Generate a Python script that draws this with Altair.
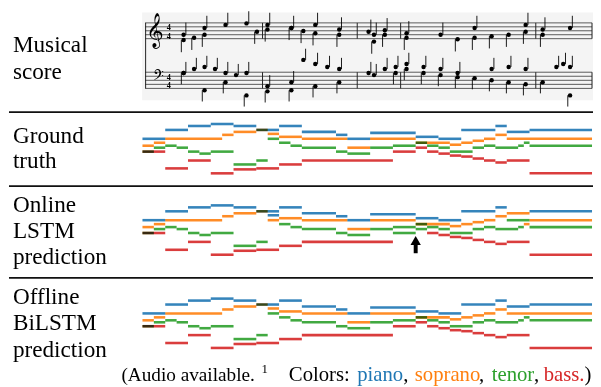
import altair as alt
import pandas as pd

# ---------------- data ----------------
voices = ["piano", "soprano", "tenor", "bass"]
voice_colors = ["#1f77b4", "#ff7f0e", "#2ca02c", "#d62728"]

# notes: (onset, offset) in eighth notes, pitch (MIDI estimate)
gt_piano = [(0, 2, 71), (2, 4, 80), (4, 6, 84), (6, 8, 86), (8, 10, 84), (10, 12, 80), (12, 14, 84),
            (14, 17, 78), (17, 18, 75), (18, 20, 71), (20, 24, 77), (24, 26, 73), (26, 28, 71),
            (28, 31, 80), (31, 32, 84), (32, 34, 78), (34, 40, 80)]
gt_soprano = [(0, 1, 64), (1, 2, 67), (2, 7, 71), (7, 8, 75), (8, 10, 78), (10, 11, 80), (11, 12, 76),
              (12, 14, 73), (14, 18, 71), (18, 20, 62), (20, 24, 71), (24, 27, 67), (27, 28, 65),
              (28, 29, 67), (29, 30, 69), (30, 31, 71), (31, 32, 75), (32, 40, 71)]
gt_tenor = [(0, 1, 58), (1, 2, 62), (2, 3, 64), (3, 4, 62), (4, 5, 58), (5, 6, 56), (6, 8, 58),
            (8, 10, 45), (10, 11, 49), (11, 12, 71), (12, 13, 67), (13, 14, 64), (14, 17, 62),
            (17, 18, 58), (18, 20, 56), (20, 22, 62), (22, 24, 64), (24, 25, 67), (25, 26, 64),
            (26, 27, 62), (27, 29, 58), (29, 30, 62), (30, 31, 64), (31, 33, 62), (33, 33.5, 64),
            (33.5, 34, 67), (34, 40, 64)]
gt_bass = [(0, 2, 58), (2, 4, 41), (4, 6, 49), (6, 8, 36), (8, 10, 40), (10, 12, 41), (12, 14, 45),
           (14, 22, 49), (22, 24, 58), (24, 25, 62), (25, 26, 58), (26, 27, 56), (27, 28, 54),
           (28, 29, 53), (29, 30, 51), (30, 31, 49), (31, 32, 47), (32, 34, 49), (34, 40, 36)]

online_piano = [(0, 2, 71), (2, 4, 80), (4, 6, 84), (6, 8, 86), (8, 10, 84), (10, 12, 80), (11, 12, 76),
                (12, 14, 84), (14, 17, 78), (17, 18, 75), (18, 20, 71), (20, 24, 77), (24, 26, 73),
                (26, 28, 71), (28, 31, 80), (31, 32, 84), (34, 40, 80)]
online_soprano = [(0, 1, 64), (1, 2, 67), (2, 7, 71), (7, 8, 75), (8, 10, 78), (10, 11, 80), (11, 12, 71),
                  (12, 14, 73), (14, 18, 71), (18, 20, 62), (20, 24, 71), (24, 27, 67), (27, 28, 65),
                  (28, 29, 67), (29, 30, 69), (30, 31, 71), (31, 32, 75), (32, 34, 78), (33.5, 34, 67),
                  (34, 40, 71)]
online_tenor = [(0, 1, 58), (1, 2, 62), (2, 3, 64), (3, 4, 62), (4, 5, 58), (5, 6, 56), (6, 8, 58),
                (8, 10, 45), (10, 11, 49), (12, 13, 67), (13, 14, 64), (14, 17, 62), (17, 18, 58),
                (18, 20, 56), (20, 22, 62), (22, 24, 64), (22, 24, 58), (24, 25, 67), (24, 25, 62),
                (25, 26, 64), (26, 27, 62), (27, 29, 58), (29, 30, 62), (30, 31, 64), (31, 33, 62),
                (32, 34, 71), (33, 33.5, 64), (34, 40, 64)]
online_bass = [(0, 2, 58), (2, 4, 41), (4, 6, 49), (6, 8, 36), (8, 10, 40), (10, 12, 41), (12, 14, 45),
               (14, 22, 49), (25, 26, 58), (26, 27, 56), (27, 28, 54), (28, 29, 53), (29, 30, 51),
               (30, 31, 49), (31, 32, 47), (32, 34, 49), (34, 40, 36)]

offline_piano = list(gt_piano)
offline_soprano = list(gt_soprano)
offline_tenor = list(gt_tenor)
offline_bass = list(gt_bass)

arrow_time = [24]
arrow_tip = [54.5]
arrow_base = [37.5]

row_labels = [["Musical", "score"], ["Ground", "truth"], ["Online", "LSTM", "prediction"],
              ["Offline", "BiLSTM", "prediction"]]
caption_pieces = ["Colors:", "piano", ",", "soprano", ",", "tenor", ",", "bass.", ")"]
caption_colors = ["black", voice_colors[0], "black", voice_colors[1], "black",
                  voice_colors[2], "black", voice_colors[3], "black"]


def notes_frame(piano, soprano, tenor, bass):
    rows = []
    for v, notes in zip(voices, [piano, soprano, tenor, bass]):
        for s, e, p in notes:
            rows.append({"voice": v, "start": s, "end": e, "pitch": p})
    return pd.DataFrame(rows)


gt_df = notes_frame(gt_piano, gt_soprano, gt_tenor, gt_bass)
online_df = notes_frame(online_piano, online_soprano, online_tenor, online_bass)
offline_df = notes_frame(offline_piano, offline_soprano, offline_tenor, offline_bass)

# ---------------- layout ----------------
W, H = 593, 379
OFF = 8          # page margin


def px(v):
    return v - OFF


SERIF = "Liberation Serif"
dummy = pd.DataFrame({"a": [0]})

color_scale = alt.Scale(domain=voices, range=voice_colors)
time_scale = alt.Scale(domain=[0, 40], range=[px(143.3), px(143.3 + 40 * 11.54)], nice=False, zero=False)

layers = []

# score background
layers.append(alt.Chart(dummy).mark_rect(color="#f4f4f4").encode(
    x=alt.value(px(143)), x2=alt.value(W), y=alt.value(0), y2=alt.value(px(97))))

# staff lines
treble_lines = [18.5, 22.5, 26.5, 30.5, 34.5]
bass_lines = [68.5, 72.6, 76.7, 80.8, 84.9]
staff_df = pd.DataFrame({"y": [px(v) for v in treble_lines + bass_lines]})
pix_y = alt.Scale(domain=[0, H], range=[0, H], nice=False, zero=False)
pix_x = alt.Scale(domain=[0, W], range=[0, W], nice=False, zero=False)
layers.append(alt.Chart(staff_df).mark_rule(color="#333", strokeWidth=0.8).encode(
    x=alt.value(px(146)), x2=alt.value(px(599)), y=alt.Y("y:Q", scale=pix_y, axis=None)))

# barlines
bar_x = [265, 361, 405, 542, 599]
bar_rows = []
for bx in bar_x:
    bar_rows.append({"x": px(bx), "y1": px(treble_lines[0]), "y2": px(treble_lines[-1])})
    bar_rows.append({"x": px(bx), "y1": px(bass_lines[0]), "y2": px(bass_lines[-1])})
bar_rows.append({"x": px(146.5), "y1": px(treble_lines[0]), "y2": px(bass_lines[-1])})
layers.append(alt.Chart(pd.DataFrame(bar_rows)).mark_rule(color="#222", strokeWidth=1).encode(
    x=alt.X("x:Q", scale=pix_x, axis=None),
    y=alt.Y("y1:Q", scale=pix_y, axis=None), y2="y2:Q"))


def text_at(s, x, y, size, color="black", font=SERIF, weight="normal", align="left"):
    return alt.Chart(dummy).mark_text(text=s, align=align, baseline="alphabetic", font=font,
                                      fontSize=size, color=color, fontWeight=weight).encode(
        x=alt.value(px(x)), y=alt.value(px(y)))


# clefs & time signatures
layers.append(text_at("𝄞", 165, 36, 30, font="DejaVu Sans", align="right"))
layers.append(text_at("𝄢", 165, 79, 17, font="DejaVu Sans", align="right"))
for yb in [26.2, 34.6, 76.5, 84.9]:
    layers.append(text_at("4", 168, yb, 8.3, weight="bold"))

# score notes (ground truth, onsets)
score_x = alt.Scale(domain=[0, 8, 16, 24, 32, 40],
                    range=[px(v) for v in [185, 270, 367, 411, 549, 660]], nice=False, zero=False)
treble_y = alt.Scale(domain=[60, 86], range=[px(39), px(19)], nice=False, zero=False)
bass_y = alt.Scale(domain=[36, 71], range=[px(92), px(56)], nice=False, zero=False)

for staff_voices, ys, stem_len in [(["piano", "soprano"], treble_y, 16), (["tenor", "bass"], bass_y, 11)]:
    sdf = gt_df[gt_df.voice.isin(staff_voices)]
    up = sdf[sdf.voice == staff_voices[0]].assign(stem=lambda d: d.pitch + stem_len)
    dn = sdf[sdf.voice == staff_voices[1]].assign(stem=lambda d: d.pitch - stem_len)
    layers.append(alt.Chart(sdf).mark_point(filled=True, shape="circle", size=20, color="black",
                                           opacity=1).encode(
        x=alt.X("start:Q", scale=score_x, axis=None),
        y=alt.Y("pitch:Q", scale=ys, axis=None)))
    layers.append(alt.Chart(up).mark_rule(color="black", strokeWidth=0.9, xOffset=2.3).encode(
        x=alt.X("start:Q", scale=score_x, axis=None),
        y=alt.Y("pitch:Q", scale=ys, axis=None), y2="stem:Q"))
    layers.append(alt.Chart(dn).mark_rule(color="black", strokeWidth=0.9, xOffset=-2.3).encode(
        x=alt.X("start:Q", scale=score_x, axis=None),
        y=alt.Y("pitch:Q", scale=ys, axis=None), y2="stem:Q"))

# separators
for sy in [109, 184, 277]:
    layers.append(alt.Chart(dummy).mark_rule(color="#111", strokeWidth=1.8).encode(
        x=alt.value(0), x2=alt.value(W), y=alt.value(px(sy))))


# piano rolls
def roll(df, top_y):
    ys = alt.Scale(domain=[36, 86], range=[px(top_y + 50), px(top_y)], nice=False, zero=False)
    return alt.Chart(df).mark_rule(strokeWidth=2.6, opacity=0.9, blend="multiply", clip=True).encode(
        x=alt.X("start:Q", scale=time_scale, axis=None),
        x2="end:Q",
        y=alt.Y("pitch:Q", scale=ys, axis=None),
        color=alt.Color("voice:N", scale=color_scale, legend=None)), ys


gt_layer, _ = roll(gt_df, 121)
on_layer, on_y = roll(online_df, 203.5)
off_layer, _ = roll(offline_df, 298)
layers += [gt_layer, on_layer, off_layer]

# arrow in the online panel
arrow_df = pd.DataFrame({"t": arrow_time, "tip": arrow_tip, "base": arrow_base})
layers.append(alt.Chart(arrow_df).mark_rule(color="black", strokeWidth=4).encode(
    x=alt.X("t:Q", scale=time_scale, axis=None),
    y=alt.Y("base:Q", scale=on_y, axis=None),
    y2=alt.Y2(datum=46)))
layers.append(alt.Chart(arrow_df).mark_point(shape="triangle-up", filled=True, color="black",
                                             size=110, opacity=1, yOffset=4).encode(
    x=alt.X("t:Q", scale=time_scale, axis=None),
    y=alt.Y("tip:Q", scale=on_y, axis=None)))

# row labels
label_baselines = [[48, 75], [140, 166], [210, 237, 263], [303, 330, 357]]
for words, bases in zip(row_labels, label_baselines):
    for w, b in zip(words, bases):
        layers.append(text_at(w, 12, b, 23.5))

# caption
layers.append(text_at("(Audio available.", 122, 382, 19.5))
layers.append(text_at("1", 264, 373, 13))
cap_x = [291.7, 361, 407.7, 419.3, 484.5, 497.3, 540.3, 550, 591.4]
for s, c, x in zip(caption_pieces, caption_colors, cap_x):
    layers.append(text_at(s, x, 382, 21, color=c))

chart = alt.layer(*layers).resolve_scale(x="independent", y="independent", color="shared").properties(
    width=W, height=H, padding=0, background="white",
    autosize=alt.AutoSizeParams(type="fit", contains="padding")
).configure_view(stroke=None)

chart.save("out.html", embed_options={"renderer": "svg", "actions": False})
